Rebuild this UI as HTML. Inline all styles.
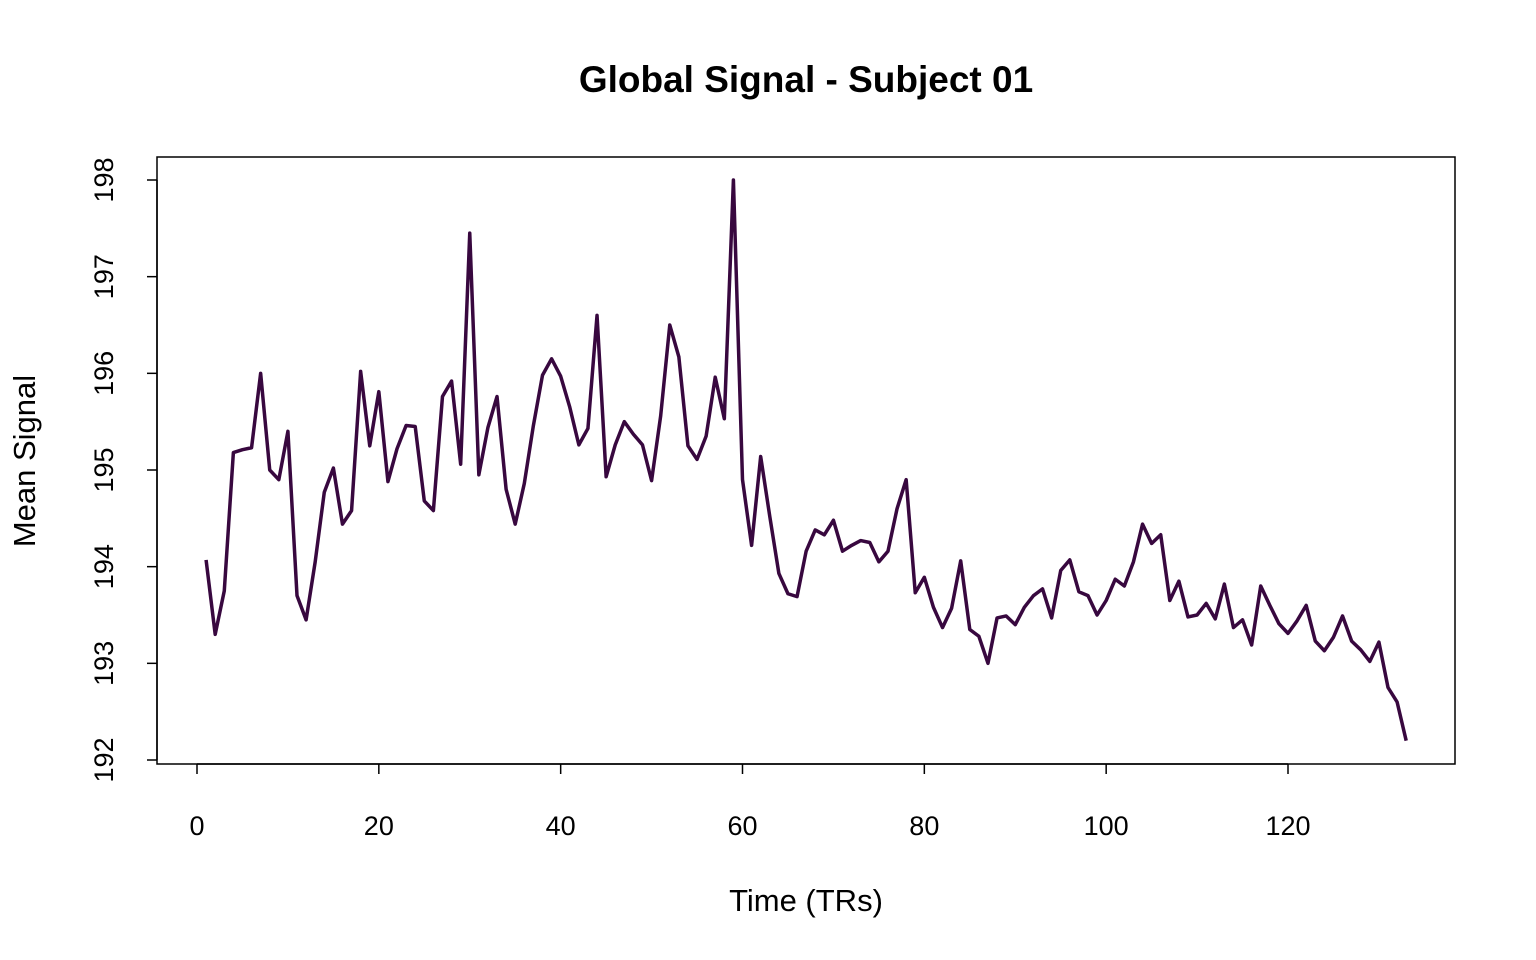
<!DOCTYPE html>
<html><head><meta charset="utf-8"><style>
html,body{margin:0;padding:0;background:#fff;}
svg{display:block;font-family:"Liberation Sans",Arial,sans-serif;}
</style></head><body>
<svg id="chart" width="1536" height="960">
<text x="806" y="92" text-anchor="middle" font-size="37" font-weight="bold">Global Signal - Subject 01</text>
<rect x="157" y="157" width="1298" height="607" fill="none" stroke="#000" stroke-width="1.5"/>
<g id="xaxis"></g>
<g id="yaxis"></g>
<text x="806" y="911" text-anchor="middle" font-size="31">Time (TRs)</text>
<text transform="translate(35,461) rotate(-90)" text-anchor="middle" font-size="31">Mean Signal</text>
<polyline id="line" fill="none" stroke="#38083f" stroke-width="3.5" stroke-linejoin="round"/>
</svg>
<script>
const signal=[194.07,193.3,193.75,195.18,195.21,195.23,196.0,195.0,194.9,195.4,193.7,193.45,194.05,194.77,195.02,194.44,194.58,196.02,195.25,195.81,194.88,195.22,195.46,195.45,194.68,194.58,195.76,195.92,195.06,197.45,194.95,195.44,195.76,194.8,194.44,194.86,195.46,195.98,196.15,195.97,195.65,195.26,195.43,196.6,194.93,195.26,195.5,195.37,195.26,194.89,195.56,196.5,196.17,195.25,195.11,195.35,195.96,195.53,198.0,194.9,194.22,195.14,194.52,193.93,193.72,193.69,194.16,194.38,194.33,194.48,194.16,194.22,194.27,194.25,194.05,194.16,194.6,194.9,193.73,193.89,193.58,193.37,193.57,194.06,193.35,193.28,193.0,193.47,193.49,193.4,193.58,193.7,193.77,193.47,193.96,194.07,193.74,193.7,193.5,193.65,193.87,193.8,194.05,194.44,194.24,194.33,193.65,193.85,193.48,193.5,193.62,193.46,193.82,193.37,193.45,193.19,193.8,193.6,193.41,193.31,193.44,193.6,193.23,193.13,193.27,193.49,193.23,193.14,193.02,193.22,192.75,192.6,192.2];
const xTicks=[0,20,40,60,80,100,120];
const yTicks=[192,193,194,195,196,197,198];
const NS='http://www.w3.org/2000/svg';
function sx(v){return 197+(v-0)*(1288-197)/120;}
function sy(v){return 760-(v-192)*(760-180)/6;}
const pts=signal.map((v,i)=>sx(i+1).toFixed(2)+','+sy(v).toFixed(2)).join(' ');
document.getElementById('line').setAttribute('points',pts);
const xa=document.getElementById('xaxis');
let l=document.createElementNS(NS,'line');
l.setAttribute('x1',sx(xTicks[0]));l.setAttribute('x2',sx(xTicks[xTicks.length-1]));
l.setAttribute('y1',764);l.setAttribute('y2',764);l.setAttribute('stroke','#000');l.setAttribute('stroke-width','1.5');


xa.appendChild(l);
xTicks.forEach(t=>{
 const tk=document.createElementNS(NS,'line');
 tk.setAttribute('x1',sx(t));tk.setAttribute('x2',sx(t));tk.setAttribute('y1',764);tk.setAttribute('y2',774);
 tk.setAttribute('stroke','#000');tk.setAttribute('stroke-width','1.5');
 
 
 xa.appendChild(tk);
 const tx=document.createElementNS(NS,'text');
 tx.setAttribute('x',sx(t));tx.setAttribute('y',835);tx.setAttribute('text-anchor','middle');tx.setAttribute('font-size','27');
 tx.textContent=t;
 
 
 xa.appendChild(tx);
});
const ya=document.getElementById('yaxis');
let l2=document.createElementNS(NS,'line');
l2.setAttribute('x1',157);l2.setAttribute('x2',157);
l2.setAttribute('y1',sy(yTicks[0]));l2.setAttribute('y2',sy(yTicks[yTicks.length-1]));l2.setAttribute('stroke','#000');l2.setAttribute('stroke-width','1.5');


ya.appendChild(l2);
yTicks.forEach(t=>{
 const tk=document.createElementNS(NS,'line');
 tk.setAttribute('x1',147);tk.setAttribute('x2',157);tk.setAttribute('y1',sy(t));tk.setAttribute('y2',sy(t));
 tk.setAttribute('stroke','#000');tk.setAttribute('stroke-width','1.5');
 
 
 ya.appendChild(tk);
 const tx=document.createElementNS(NS,'text');
 tx.setAttribute('transform','translate(113,'+sy(t)+') rotate(-90)');
 tx.setAttribute('text-anchor','middle');tx.setAttribute('font-size','27');
 tx.textContent=t;
 
 
 ya.appendChild(tx);
});
</script>
</body></html>
